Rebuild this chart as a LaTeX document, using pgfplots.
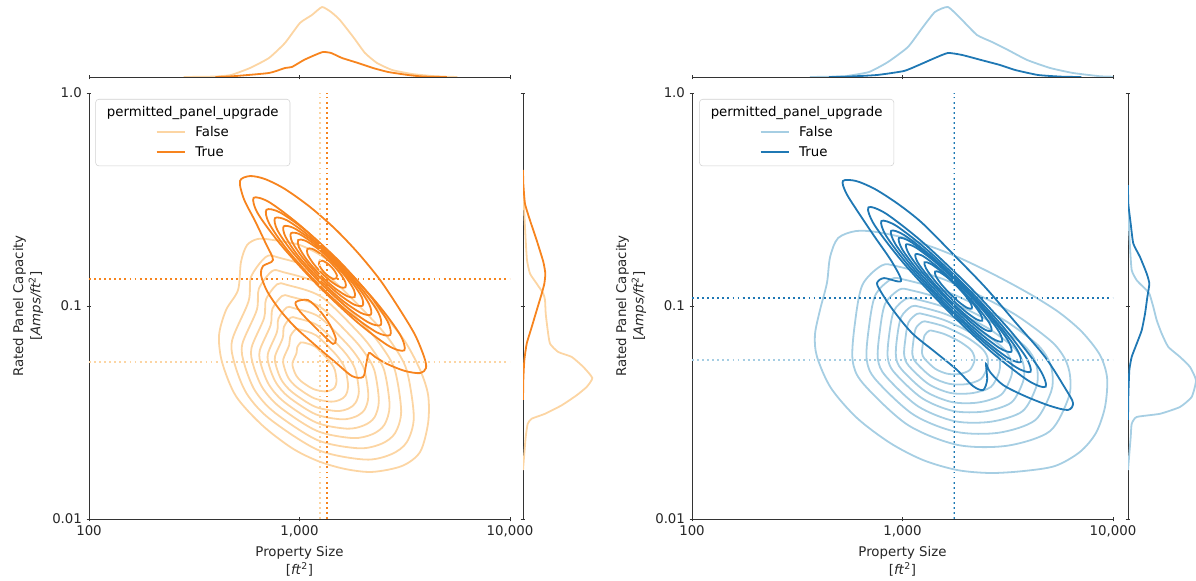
\documentclass[border=0pt]{standalone}
\usepackage{fontspec}
\setmainfont{DejaVu Sans}
\usepackage{pgfplots}
\pgfplotsset{compat=1.18}

% palette: False (light) / True (dark)
\definecolor{orF}{HTML}{FCD5A3}
\definecolor{orT}{HTML}{F7841E}
\definecolor{blF}{HTML}{A6CEE3}
\definecolor{blT}{HTML}{1F78B4}
\definecolor{spine}{HTML}{333333}

% All positions are log10 values: x = log10(property size [ft^2]),
% y = log10(rated capacity [A/ft^2]); marginals hold the KDE density.
\pgfplotsset{
  kde/.style={line width=1.35pt, smooth cycle, tension=0.5, mark=none},
  fO/.style={kde, color=orF},
  tO/.style={kde, color=orT},
  fB/.style={kde, color=blF},
  tB/.style={kde, color=blT},
  marg/.style={line width=1.35pt, smooth, tension=0.3, mark=none},
  med/.style={line width=1.4pt, dash pattern=on 1.4pt off 2.4pt, mark=none},
  spines/.style={
    tick align=outside, major tick length=3.5pt,
    every tick/.style={spine, line width=0.6pt},
    minor tick num=0,
  },
  plainlines/.style={
    axis line style={-, spine, line width=0.6pt},
    x axis line style={-}, y axis line style={-},
    every outer x axis line/.append style={-},
    every outer y axis line/.append style={-},
    every inner x axis line/.append style={-},
    every inner y axis line/.append style={-},
  },
  joint/.style={
    spines, scale only axis, width=315.75pt, height=319.5pt,
    anchor=south west,
    xmin=2, xmax=4, ymin=-2, ymax=0,
    axis lines=left, plainlines,
    xtick={2,3,4}, xticklabels={100,{1,000},{10,000}},
    ytick={-2,-1,0}, yticklabels={0.01,0.1,1.0},
    tick label style={font=\fontsize{10}{12}\selectfont, text=black!85},
    xlabel={Property Size\\{[}\textit{ft}\textsuperscript{2}{]}},
    ylabel={Rated Panel Capacity\\{[}\textit{Amps/ft}\textsuperscript{2}{]}},
    label style={align=center, font=\fontsize{10}{13}\selectfont, text=black!85},
  },
  topmarg/.style={
    spines, scale only axis, width=315.75pt, height=57.75pt,
    anchor=south west,
    xmin=2, xmax=4, ymin=0, ymax=1,
    axis x line=bottom, axis y line=none, plainlines,
    xtick={2,3,4}, xticklabels={}, ytick=\empty,
  },
  sidemarg/.style={
    spines, scale only axis, width=57.75pt, height=319.5pt,
    anchor=south west,
    xmin=0, xmax=1, ymin=-2, ymax=0,
    axis y line=left, axis x line=none, plainlines,
    ytick={-2,-1,0}, yticklabels={}, xtick=\empty,
  },
}
\tikzset{legbox/.style={anchor=north west, draw=black!18, rounded corners=2.5pt,
  fill=white, fill opacity=0.8, text opacity=1, inner xsep=8.5pt, inner ysep=2.5pt,
  font=\fontsize{10}{12}\selectfont}}
\newcommand\legline[1]{\textcolor{#1}{\rule[2.8pt]{21pt}{1.4pt}}}
\newcommand\legtext[2]{\def\arraystretch{1.25}%
  \begin{tabular}{@{}c@{}}permitted\_panel\_upgrade\\
  \begin{tabular}[t]{@{}l@{\hspace{8pt}}l@{}}\legline{#1} & False\\ \legline{#2} & True\end{tabular}\end{tabular}}

\begin{document}
\begin{tikzpicture}
\path[use as bounding box] (0pt,0pt) rectangle (897pt,-435.75pt);

% ================= orange panel =================
\begin{axis}[joint, at={(66.75pt,-389.25pt)}]
% False
\addplot[fO] coordinates {(2.874,-0.690) (3.002,-0.714) (3.121,-0.775) (3.250,-0.887) (3.383,-1.023) (3.497,-1.160) (3.573,-1.300) (3.611,-1.418) (3.611,-1.549) (3.573,-1.685) (3.487,-1.751) (3.345,-1.779) (3.216,-1.765) (3.088,-1.728) (2.964,-1.667) (2.822,-1.559) (2.698,-1.423) (2.632,-1.263) (2.618,-1.136) (2.651,-1.019) (2.708,-0.925) (2.722,-0.793) (2.751,-0.714) (2.803,-0.685)};
\addplot[fO] coordinates {(2.902,-0.773) (3.117,-0.847) (3.345,-1.063) (3.444,-1.182) (3.510,-1.304) (3.543,-1.521) (3.510,-1.639) (3.436,-1.696) (3.312,-1.721) (3.088,-1.676) (2.857,-1.529) (2.749,-1.411) (2.692,-1.272) (2.680,-1.161) (2.758,-0.978) (2.770,-0.863) (2.841,-0.769)};
\addplot[fO] coordinates {(2.923,-0.841) (3.111,-0.905) (3.310,-1.094) (3.396,-1.198) (3.454,-1.304) (3.483,-1.494) (3.454,-1.597) (3.389,-1.647) (3.281,-1.668) (3.086,-1.630) (2.883,-1.501) (2.789,-1.398) (2.739,-1.276) (2.728,-1.180) (2.797,-1.019) (2.807,-0.919) (2.869,-0.837)};
\addplot[fO] coordinates {(2.941,-0.901) (3.104,-0.957) (3.277,-1.121) (3.352,-1.212) (3.403,-1.304) (3.428,-1.468) (3.403,-1.558) (3.346,-1.602) (3.252,-1.620) (3.082,-1.586) (2.907,-1.475) (2.825,-1.385) (2.781,-1.280) (2.772,-1.196) (2.832,-1.056) (2.841,-0.969) (2.894,-0.898)};
\addplot[fO] coordinates {(2.957,-0.956) (3.098,-1.004) (3.247,-1.145) (3.312,-1.223) (3.356,-1.303) (3.377,-1.445) (3.356,-1.523) (3.307,-1.560) (3.226,-1.576) (3.079,-1.547) (2.928,-1.451) (2.857,-1.373) (2.819,-1.282) (2.811,-1.210) (2.863,-1.089) (2.871,-1.014) (2.917,-0.953)};
\addplot[fO] coordinates {(2.973,-1.010) (3.092,-1.050) (3.217,-1.169) (3.272,-1.235) (3.309,-1.302) (3.327,-1.422) (3.309,-1.487) (3.267,-1.519) (3.199,-1.532) (3.076,-1.508) (2.948,-1.427) (2.889,-1.361) (2.857,-1.285) (2.850,-1.224) (2.893,-1.122) (2.900,-1.059) (2.939,-1.007)};
\addplot[fO] coordinates {(2.987,-1.057) (3.086,-1.091) (3.190,-1.190) (3.236,-1.245) (3.266,-1.301) (3.282,-1.401) (3.266,-1.455) (3.232,-1.482) (3.175,-1.493) (3.072,-1.472) (2.966,-1.405) (2.916,-1.350) (2.890,-1.286) (2.884,-1.236) (2.920,-1.151) (2.926,-1.098) (2.958,-1.055)};
\addplot[fO] coordinates {(3.003,-1.111) (3.079,-1.138) (3.161,-1.215) (3.196,-1.257) (3.219,-1.300) (3.231,-1.378) (3.219,-1.420) (3.193,-1.440) (3.149,-1.449) (3.069,-1.433) (2.987,-1.381) (2.948,-1.339) (2.928,-1.289) (2.923,-1.250) (2.951,-1.184) (2.956,-1.143) (2.981,-1.110)};
\addplot[fO] coordinates {(3.021,-1.172) (3.073,-1.190) (3.128,-1.242) (3.152,-1.271) (3.168,-1.300) (3.176,-1.352) (3.168,-1.381) (3.150,-1.395) (3.120,-1.401) (3.066,-1.390) (3.010,-1.355) (2.984,-1.326) (2.970,-1.292) (2.967,-1.266) (2.986,-1.221) (2.989,-1.194) (3.006,-1.171)};
% True
\addplot[tO] coordinates {(2.717,-0.413) (2.765,-0.390) (2.836,-0.404) (2.931,-0.451) (3.050,-0.535) (3.169,-0.638) (3.278,-0.751) (3.383,-0.878) (3.478,-1.019) (3.549,-1.136) (3.592,-1.239) (3.601,-1.291) (3.573,-1.315) (3.501,-1.305) (3.416,-1.272) (3.359,-1.239) (3.330,-1.221) (3.316,-1.277) (3.302,-1.333) (3.250,-1.329) (3.169,-1.263) (3.074,-1.183) (2.979,-1.099) (2.903,-1.014) (2.846,-0.930) (2.817,-0.854) (2.827,-0.812) (2.874,-0.784) (2.841,-0.709) (2.789,-0.601) (2.736,-0.498)};
\addplot[tO] coordinates {(2.983,-0.981) (3.040,-0.972) (3.097,-1.023) (3.145,-1.089) (3.173,-1.155) (3.159,-1.178) (3.107,-1.131) (3.040,-1.066) (2.993,-1.014)};
\addplot[tO] coordinates {(3.498,-1.208) (3.477,-1.133) (3.365,-0.983) (3.193,-0.797) (3.007,-0.625) (2.857,-0.513) (2.782,-0.492) (2.803,-0.567) (2.915,-0.717) (3.087,-0.903) (3.273,-1.075) (3.423,-1.187)};
\addplot[tO] coordinates {(3.431,-1.136) (3.418,-1.071) (3.329,-0.944) (3.189,-0.790) (3.035,-0.650) (2.908,-0.561) (2.843,-0.548) (2.856,-0.613) (2.945,-0.740) (3.085,-0.894) (3.239,-1.034) (3.366,-1.123)};
\addplot[tO] coordinates {(3.386,-1.089) (3.375,-1.032) (3.300,-0.925) (3.180,-0.793) (3.048,-0.673) (2.941,-0.598) (2.884,-0.587) (2.895,-0.644) (2.970,-0.751) (3.090,-0.883) (3.222,-1.003) (3.329,-1.078)};
\addplot[tO] coordinates {(3.339,-1.040) (3.331,-0.992) (3.271,-0.902) (3.172,-0.793) (3.063,-0.694) (2.973,-0.634) (2.925,-0.626) (2.933,-0.674) (2.993,-0.764) (3.092,-0.873) (3.201,-0.972) (3.291,-1.032)};
\addplot[tO] coordinates {(3.300,-0.998) (3.295,-0.957) (3.245,-0.883) (3.165,-0.793) (3.075,-0.713) (3.001,-0.663) (2.960,-0.658) (2.965,-0.699) (3.015,-0.773) (3.095,-0.863) (3.185,-0.943) (3.259,-0.993)};
\addplot[tO] coordinates {(3.262,-0.958) (3.259,-0.925) (3.221,-0.865) (3.158,-0.794) (3.087,-0.731) (3.027,-0.693) (2.994,-0.690) (2.997,-0.723) (3.035,-0.783) (3.098,-0.854) (3.169,-0.917) (3.229,-0.955)};
\addplot[tO] coordinates {(3.218,-0.912) (3.218,-0.888) (3.193,-0.847) (3.151,-0.799) (3.103,-0.757) (3.062,-0.732) (3.038,-0.732) (3.038,-0.756) (3.063,-0.797) (3.105,-0.845) (3.153,-0.887) (3.194,-0.912)};
\addplot[tO] coordinates {(3.175,-0.870) (3.178,-0.857) (3.168,-0.837) (3.150,-0.815) (3.128,-0.797) (3.108,-0.787) (3.095,-0.790) (3.092,-0.803) (3.102,-0.823) (3.120,-0.845) (3.142,-0.863) (3.162,-0.873)};
% medians
\addplot[med, color=orF] coordinates {(3.097,-2) (3.097,0)};
\addplot[med, color=orT] coordinates {(3.131,-2) (3.131,0)};
\addplot[med, color=orF] coordinates {(2,-1.263) (4,-1.263)};
\addplot[med, color=orT] coordinates {(2,-0.873) (4,-0.873)};
\node[legbox] at (rel axis cs:0.015,0.986) {\legtext{orF}{orT}};
\end{axis}

\begin{axis}[topmarg, at={(66.75pt,-57.75pt)}]
\addplot[marg, color=orF] coordinates {(2.450,0) (2.600,0.006) (2.675,0.026) (2.765,0.117) (2.855,0.247) (2.931,0.442) (3.002,0.701) (3.059,0.805) (3.107,0.909) (3.150,0.844) (3.192,0.740) (3.259,0.506) (3.311,0.312) (3.368,0.182) (3.440,0.091) (3.535,0.039) (3.644,0.010) (3.750,0)};
\addplot[marg, color=orT] coordinates {(2.600,0) (2.675,0.008) (2.855,0.052) (2.931,0.117) (2.964,0.130) (3.021,0.221) (3.074,0.286) (3.112,0.325) (3.150,0.312) (3.202,0.247) (3.278,0.182) (3.349,0.117) (3.421,0.065) (3.516,0.026) (3.587,0.006) (3.700,0)};
\end{axis}

\begin{axis}[sidemarg, at={(392.25pt,-389.25pt)}]
\addplot[marg, color=orF] coordinates {(0,-0.420) (0.017,-0.567) (0.035,-0.692) (0.052,-0.785) (0.091,-0.848) (0.178,-0.895) (0.264,-0.942) (0.286,-0.973) (0.295,-1.036) (0.321,-1.114) (0.351,-1.177) (0.458,-1.216) (0.632,-1.239) (0.783,-1.286) (0.900,-1.338) (0.827,-1.380) (0.697,-1.419) (0.503,-1.466) (0.286,-1.506) (0.113,-1.529) (0.061,-1.553) (0.035,-1.615) (0.017,-1.693) (0,-1.770)};
\addplot[marg, color=orT] coordinates {(0,-0.361) (0.004,-0.426) (0.026,-0.520) (0.091,-0.598) (0.178,-0.692) (0.264,-0.793) (0.290,-0.848) (0.277,-0.895) (0.243,-0.942) (0.178,-1.020) (0.113,-1.099) (0.048,-1.177) (0.017,-1.255) (0.004,-1.349) (0,-1.441)};
\end{axis}

% ================= blue panel =================
\begin{axis}[joint, at={(519pt,-389.25pt)}]
% False
\addplot[fB] coordinates {(2.879,-0.653) (3.012,-0.681) (3.155,-0.728) (3.273,-0.775) (3.392,-0.831) (3.511,-0.892) (3.630,-0.958) (3.748,-1.033) (3.853,-1.122) (3.938,-1.230) (3.972,-1.338) (3.962,-1.474) (3.919,-1.596) (3.843,-1.685) (3.725,-1.751) (3.573,-1.775) (3.416,-1.784) (3.259,-1.770) (3.097,-1.723) (2.941,-1.643) (2.784,-1.526) (2.660,-1.385) (2.594,-1.239) (2.584,-1.136) (2.608,-1.019) (2.641,-0.892) (2.656,-0.770) (2.694,-0.681) (2.779,-0.648)};
\addplot[fB] coordinates {(2.976,-0.814) (3.183,-0.870) (3.361,-0.948) (3.540,-1.043) (3.707,-1.166) (3.771,-1.247) (3.796,-1.328) (3.789,-1.430) (3.700,-1.588) (3.497,-1.656) (3.261,-1.652) (3.023,-1.557) (2.812,-1.363) (2.763,-1.254) (2.773,-1.089) (2.809,-0.902) (2.901,-0.810)};
\addplot[fB] coordinates {(3.012,-0.877) (3.189,-0.925) (3.341,-0.991) (3.493,-1.072) (3.636,-1.177) (3.690,-1.246) (3.712,-1.315) (3.706,-1.402) (3.629,-1.537) (3.457,-1.595) (3.256,-1.591) (3.052,-1.510) (2.872,-1.345) (2.830,-1.252) (2.839,-1.111) (2.870,-0.951) (2.948,-0.873)};
\addplot[fB] coordinates {(3.040,-0.926) (3.192,-0.967) (3.322,-1.024) (3.453,-1.094) (3.576,-1.184) (3.623,-1.244) (3.641,-1.303) (3.636,-1.378) (3.570,-1.494) (3.422,-1.543) (3.249,-1.541) (3.074,-1.471) (2.920,-1.329) (2.883,-1.249) (2.891,-1.128) (2.917,-0.991) (2.985,-0.923)};
\addplot[fB] coordinates {(3.064,-0.968) (3.193,-1.003) (3.305,-1.052) (3.417,-1.111) (3.521,-1.188) (3.561,-1.239) (3.577,-1.290) (3.573,-1.354) (3.517,-1.453) (3.390,-1.495) (3.242,-1.493) (3.093,-1.433) (2.961,-1.312) (2.930,-1.243) (2.936,-1.140) (2.959,-1.023) (3.017,-0.966)};
\addplot[fB] coordinates {(3.083,-1.004) (3.193,-1.034) (3.288,-1.075) (3.383,-1.126) (3.472,-1.192) (3.506,-1.235) (3.520,-1.278) (3.516,-1.332) (3.468,-1.417) (3.360,-1.453) (3.235,-1.451) (3.108,-1.400) (2.995,-1.297) (2.969,-1.238) (2.974,-1.150) (2.994,-1.051) (3.043,-1.002)};
\addplot[fB] coordinates {(3.102,-1.039) (3.193,-1.064) (3.271,-1.098) (3.350,-1.140) (3.423,-1.194) (3.452,-1.229) (3.463,-1.265) (3.459,-1.310) (3.420,-1.380) (3.331,-1.409) (3.227,-1.408) (3.123,-1.366) (3.030,-1.281) (3.008,-1.232) (3.013,-1.160) (3.028,-1.078) (3.069,-1.037)};
\addplot[fB] coordinates {(3.121,-1.075) (3.193,-1.094) (3.255,-1.121) (3.317,-1.154) (3.375,-1.197) (3.397,-1.225) (3.406,-1.253) (3.403,-1.288) (3.372,-1.343) (3.302,-1.367) (3.220,-1.365) (3.137,-1.332) (3.064,-1.265) (3.047,-1.227) (3.051,-1.170) (3.063,-1.105) (3.095,-1.074)};
\addplot[fB] coordinates {(3.145,-1.117) (3.194,-1.130) (3.237,-1.149) (3.280,-1.172) (3.320,-1.201) (3.335,-1.221) (3.342,-1.240) (3.340,-1.264) (3.318,-1.302) (3.270,-1.319) (3.213,-1.318) (3.156,-1.295) (3.105,-1.248) (3.093,-1.222) (3.096,-1.183) (3.105,-1.138) (3.127,-1.116)};
% True
\addplot[tB] coordinates {(2.717,-0.413) (2.779,-0.413) (2.869,-0.451) (2.979,-0.521) (3.093,-0.610) (3.235,-0.751) (3.392,-0.911) (3.535,-1.075) (3.677,-1.239) (3.772,-1.385) (3.810,-1.455) (3.786,-1.488) (3.701,-1.469) (3.582,-1.423) (3.478,-1.371) (3.416,-1.310) (3.397,-1.272) (3.402,-1.347) (3.383,-1.394) (3.335,-1.376) (3.259,-1.300) (3.155,-1.216) (3.045,-1.127) (2.955,-1.019) (2.898,-0.934) (2.879,-0.892) (2.912,-0.869) (2.993,-0.883) (2.950,-0.793) (2.865,-0.671) (2.789,-0.559) (2.732,-0.469)};
\addplot[tB] coordinates {(3.680,-1.379) (3.651,-1.296) (3.517,-1.122) (3.313,-0.904) (3.095,-0.700) (2.921,-0.566) (2.838,-0.537) (2.867,-0.620) (3.001,-0.794) (3.205,-1.012) (3.423,-1.216) (3.597,-1.350)};
\addplot[tB] coordinates {(3.608,-1.309) (3.585,-1.238) (3.472,-1.091) (3.301,-0.908) (3.118,-0.737) (2.971,-0.624) (2.900,-0.601) (2.923,-0.672) (3.036,-0.819) (3.207,-1.002) (3.390,-1.173) (3.537,-1.286)};
\addplot[tB] coordinates {(3.562,-1.263) (3.542,-1.201) (3.444,-1.073) (3.296,-0.913) (3.136,-0.765) (3.008,-0.667) (2.946,-0.647) (2.966,-0.709) (3.064,-0.837) (3.212,-0.997) (3.372,-1.145) (3.500,-1.243)};
\addplot[tB] coordinates {(3.517,-1.215) (3.500,-1.160) (3.416,-1.050) (3.287,-0.911) (3.148,-0.782) (3.038,-0.698) (2.983,-0.681) (3.000,-0.736) (3.084,-0.846) (3.213,-0.985) (3.352,-1.114) (3.462,-1.198)};
\addplot[tB] coordinates {(3.473,-1.167) (3.458,-1.120) (3.387,-1.025) (3.277,-0.907) (3.159,-0.797) (3.064,-0.726) (3.017,-0.711) (3.032,-0.758) (3.103,-0.853) (3.213,-0.971) (3.331,-1.081) (3.426,-1.152)};
\addplot[tB] coordinates {(3.422,-1.117) (3.412,-1.079) (3.355,-1.004) (3.269,-0.910) (3.175,-0.824) (3.100,-0.767) (3.062,-0.757) (3.072,-0.795) (3.129,-0.870) (3.215,-0.964) (3.309,-1.050) (3.384,-1.107)};
\addplot[tB] coordinates {(3.379,-1.069) (3.372,-1.040) (3.330,-0.982) (3.264,-0.910) (3.192,-0.844) (3.134,-0.802) (3.105,-0.795) (3.112,-0.824) (3.154,-0.882) (3.220,-0.954) (3.292,-1.020) (3.350,-1.062)};
\addplot[tB] coordinates {(3.329,-1.012) (3.326,-0.991) (3.301,-0.954) (3.259,-0.908) (3.213,-0.866) (3.176,-0.841) (3.155,-0.838) (3.158,-0.859) (3.183,-0.896) (3.225,-0.942) (3.271,-0.984) (3.308,-1.009)};
% medians
\addplot[med, color=blF] coordinates {(3.243,-2) (3.243,0)};
\addplot[med, color=blT] coordinates {(3.247,-2) (3.247,0)};
\addplot[med, color=blF] coordinates {(2,-1.253) (4,-1.253)};
\addplot[med, color=blT] coordinates {(2,-0.962) (4,-0.962)};
\node[legbox] at (rel axis cs:0.017,0.986) {\legtext{blF}{blT}};
\end{axis}

\begin{axis}[topmarg, at={(519pt,-57.75pt)}]
\addplot[marg, color=blF] coordinates {(2.560,0) (2.656,0.004) (2.732,0.012) (2.841,0.065) (2.931,0.195) (3.026,0.390) (3.097,0.649) (3.154,0.844) (3.216,0.909) (3.283,0.740) (3.354,0.545) (3.425,0.455) (3.501,0.351) (3.592,0.221) (3.701,0.117) (3.810,0.052) (3.938,0.010) (4.000,0.004)};
\addplot[marg, color=blT] coordinates {(2.650,0) (2.732,0.004) (2.879,0.026) (3.007,0.078) (3.078,0.156) (3.154,0.247) (3.216,0.312) (3.283,0.286) (3.373,0.221) (3.463,0.156) (3.535,0.091) (3.644,0.026) (3.758,0.004) (3.850,0)};
\end{axis}

\begin{axis}[sidemarg, at={(846pt,-389.25pt)}]
\addplot[marg, color=blF] coordinates {(0,-0.479) (0.004,-0.567) (0.026,-0.723) (0.048,-0.832) (0.113,-0.879) (0.199,-0.911) (0.277,-0.942) (0.329,-1.005) (0.373,-1.067) (0.438,-1.130) (0.523,-1.192) (0.675,-1.239) (0.805,-1.286) (0.883,-1.349) (0.827,-1.427) (0.675,-1.474) (0.416,-1.506) (0.113,-1.521) (0.048,-1.553) (0.035,-1.615) (0.017,-1.693) (0,-1.770)};
\addplot[marg, color=blT] coordinates {(0,-0.432) (0.004,-0.520) (0.035,-0.614) (0.069,-0.707) (0.156,-0.770) (0.243,-0.848) (0.277,-0.895) (0.251,-0.958) (0.221,-1.036) (0.178,-1.114) (0.113,-1.177) (0.048,-1.239) (0.017,-1.302) (0.004,-1.427) (0,-1.535)};
\end{axis}
\end{tikzpicture}
\end{document}
